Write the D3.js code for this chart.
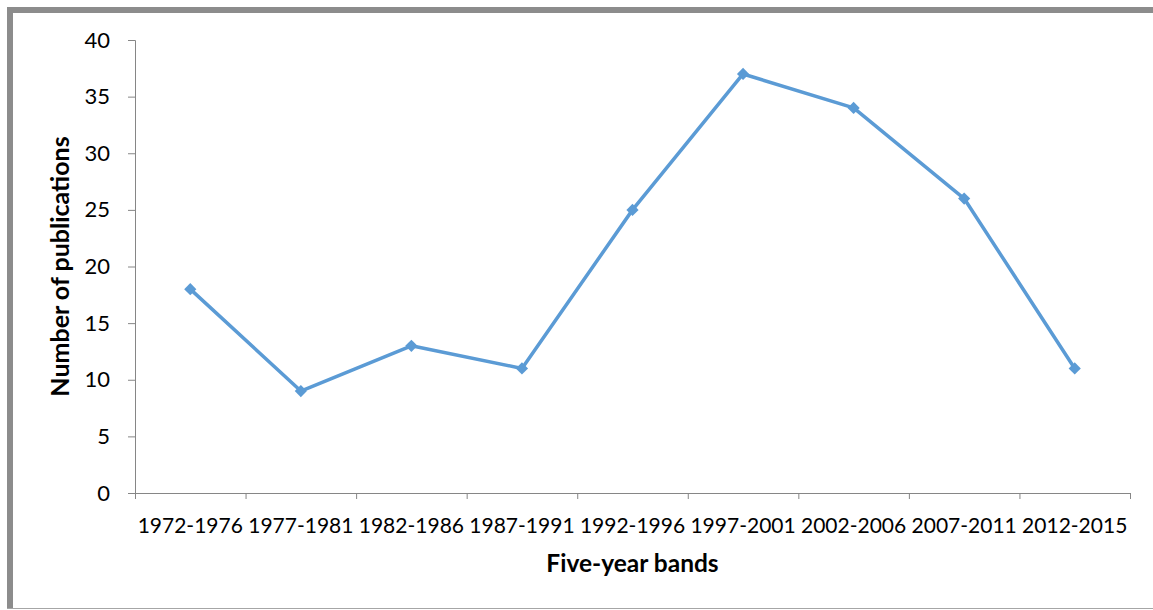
<!DOCTYPE html>
<html>
<head>
<meta charset="utf-8">
<script src="https://cdn.jsdelivr.net/npm/d3@7"></script>
<style>
  body { margin: 0; background: #fff; }
  svg { display: block; font-family: Lato, "Open Sans", sans-serif; }
</style>
</head>
<body>
<div id="chart"></div>
<script>
// chart data
let bands = ["1972-1976", "1977-1981", "1982-1986", "1987-1991", "1992-1996",
  "1997-2001", "2002-2006", "2007-2011", "2012-2015"];
let publications = [18, 9, 13, 11, 25, 37, 34, 26, 11];
let yTicks = [0, 5, 10, 15, 20, 25, 30, 35, 40];

let width = 1153, height = 610;
let plotLeft = 135, plotRight = 1130, plotTop = 40, plotBottom = 493;
let lineColor = "#5b9bd5";
let axisColor = "#868686";

let svg = d3.select("#chart")
  .append("svg")
  .attr("width", width)
  .attr("height", height);

// frame around the chart (thick left / top, thin bottom)
svg.append("line")
  .attr("x1", 10).attr("y1", 7).attr("x2", 10).attr("y2", 609)
  .attr("stroke", "#8c8c8c").attr("stroke-width", 6);
svg.append("line")
  .attr("x1", 7).attr("y1", 10).attr("x2", 1153).attr("y2", 10)
  .attr("stroke", "#8c8c8c").attr("stroke-width", 6);
svg.append("line")
  .attr("x1", 7).attr("y1", 608.5).attr("x2", 1153).attr("y2", 608.5)
  .attr("stroke", "#a6a6a6").attr("stroke-width", 1);

// scales
let xScale = d3.scaleBand().domain(bands).range([plotLeft, plotRight]);
let xEdge = d3.scaleLinear().domain([0, bands.length]).range([plotLeft, plotRight]);
let yScale = d3.scaleLinear().domain([0, 40]).range([plotBottom, plotTop]);

// y axis
let yAxis = svg.append("g")
  .attr("transform", `translate(${plotLeft},0)`)
  .call(d3.axisLeft(yScale).tickValues(yTicks).tickSize(7).tickPadding(18));
yAxis.select(".domain").attr("stroke", axisColor);
yAxis.selectAll(".tick line").attr("stroke", axisColor);
yAxis.selectAll("text")
  .attr("font-size", 22)
  .attr("fill", "#000")
  .attr("font-family", "Lato, sans-serif");

// x axis boundary ticks
let xTicks = svg.append("g")
  .attr("transform", `translate(0,${plotBottom})`)
  .call(d3.axisBottom(xEdge).ticks(bands.length).tickSize(6).tickFormat(""));
xTicks.select(".domain").attr("stroke", axisColor);
xTicks.selectAll(".tick line").attr("stroke", axisColor);

// x axis labels at band centres
let xLabels = svg.append("g")
  .attr("transform", `translate(0,${plotBottom})`)
  .call(d3.axisBottom(xScale).tickSize(0));
xLabels.select(".domain").remove();
xLabels.selectAll("text")
  .attr("y", 40)
  .attr("dy", 0)
  .attr("font-size", 21)
  .attr("fill", "#000")
  .attr("font-family", "Lato, sans-serif");

// axis titles
svg.append("text")
  .attr("x", (plotLeft + plotRight) / 2)
  .attr("y", 572)
  .attr("text-anchor", "middle")
  .attr("font-size", 24.5)
  .attr("font-weight", "bold")
  .text("Five-year bands");

svg.append("text")
  .attr("transform", `translate(69,${(plotTop + plotBottom) / 2}) rotate(-90)`)
  .attr("text-anchor", "middle")
  .attr("font-size", 25)
  .attr("font-weight", "bold")
  .text("Number of publications");

// series line
let line = d3.line()
  .x((d, i) => xScale(bands[i]) + xScale.bandwidth() / 2)
  .y(d => yScale(d));

svg.append("path")
  .datum(publications)
  .attr("d", line)
  .attr("fill", "none")
  .attr("stroke", lineColor)
  .attr("stroke-width", 3.5)
  .attr("stroke-linejoin", "round");

// diamond markers
svg.append("g")
  .selectAll("path")
  .data(publications)
  .enter()
  .append("path")
  .attr("transform", (d, i) =>
    `translate(${xScale(bands[i]) + xScale.bandwidth() / 2},${yScale(d)})`)
  .attr("d", d3.symbol().type(d3.symbolDiamond2).size(95))
  .attr("fill", lineColor);
</script>
</body>
</html>
